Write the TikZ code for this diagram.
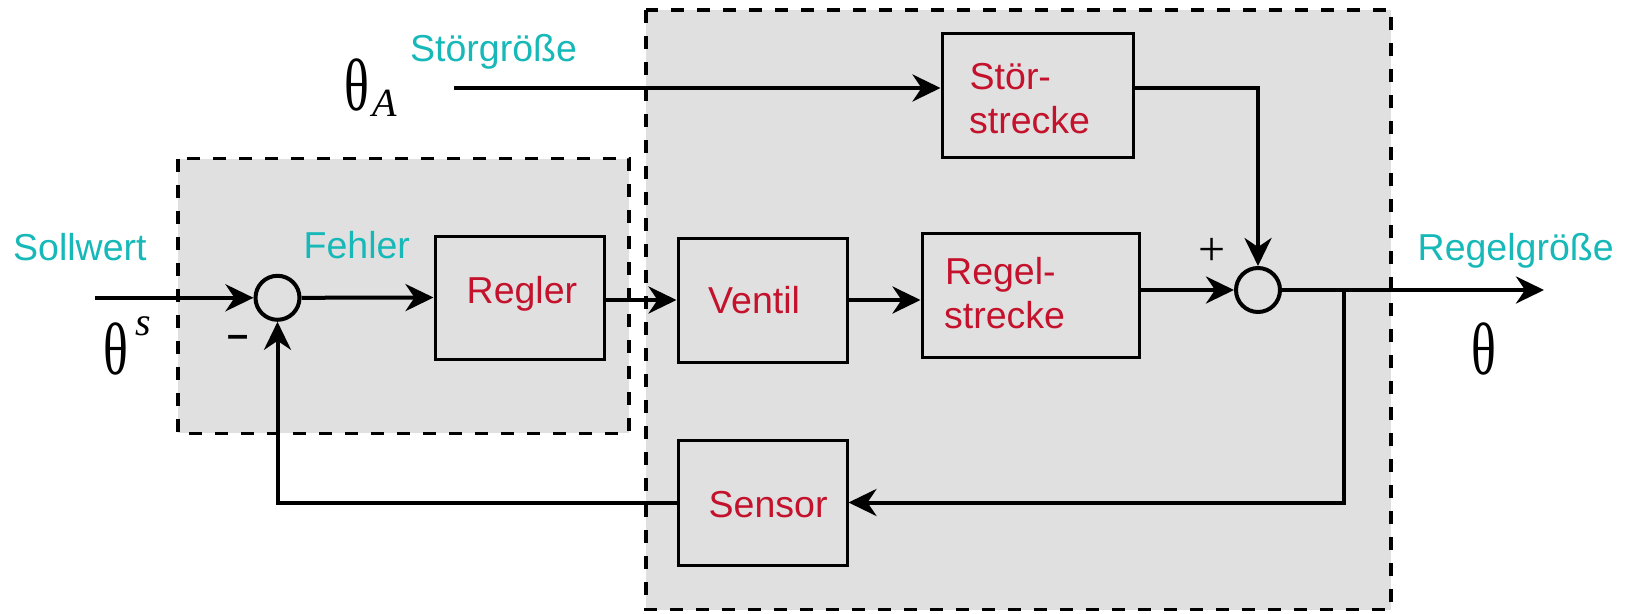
\documentclass[tikz,border=0pt]{standalone}
\usepackage{fontspec}
\setmainfont{Liberation Sans}
\newfontfamily\greekserif{Liberation Serif}
\usetikzlibrary{arrows.meta,calc}

\definecolor{panelgrey}{RGB}{224,224,224}
\definecolor{blockred}{RGB}{196,18,44}
\definecolor{signalcyan}{RGB}{22,184,184}

\tikzset{
  panel/.style={draw=black, fill=panelgrey, line width=3.5pt, dash pattern=on 13pt off 13pt},
  block/.style={draw=black, line width=3pt, rectangle, inner sep=0pt},
  summer/.style={draw=black, line width=4pt, circle, inner sep=0pt, minimum size=44pt},
  wire/.style={line width=4pt},
  flow/.style={wire, -{Stealth[length=28pt,width=27pt,inset=9pt]}},
  blocktext/.style={anchor=base west, inner sep=0pt, text=blockred, font=\fontsize{37.5}{45}\selectfont},
  signal/.style={anchor=base west, inner sep=0pt, text=signalcyan, font=\fontsize{37.5}{45}\selectfont},
  sym/.style={anchor=base west, inner sep=0pt, font=\greekserif\fontsize{74}{80}\selectfont},
  idx/.style={anchor=base west, inner sep=0pt, font=\greekserif\itshape\fontsize{40}{46}\selectfont},
}

\begin{document}
\begin{tikzpicture}[x=1pt, y=-1pt]
  \useasboundingbox (0,0) rectangle (1630,613);

  % shaded groups: controller and plant
  \draw[panel] (178,158.6) rectangle (629,433.4);
  \draw[panel] (646,9.8) rectangle (1391,609.6);

  % blocks
  \node[block, minimum width=169pt, minimum height=123pt] (regler) at (519.5,297.5) {};
  \node[block, minimum width=169pt, minimum height=124pt] (ventil) at (762.5,300) {};
  \node[block, minimum width=169pt, minimum height=125pt] (sensor) at (762.5,502.5) {};
  \node[block, minimum width=191pt, minimum height=124pt] (stoer) at (1037.5,95) {};
  \node[block, minimum width=217pt, minimum height=124pt] (strecke) at (1030.5,295) {};

  % summing points
  \node[summer] (sum1) at (277.5,297.8) {};
  \node[summer] (sum2) at (1258,290) {};

  % block labels
  \node[blocktext] (reglerT) at (466.5,303.5) {Regler};
  \node[blocktext] (ventilT) at (708,313) {Ventil};
  \node[blocktext] (sensorT) at (708.5,517) {Sensor};
  \node[blocktext] (stoerT1) at (969.5,89) {Stör-};
  \node[blocktext] (stoerT2) at (969,133) {strecke};
  \node[blocktext] (streckeT1) at (945,284) {Regel-};
  \node[blocktext] (streckeT2) at (944,328) {strecke};

  % signal names
  \node[signal] (sollwert) at (13,260) {Sollwert};
  \node[signal] (fehler) at (303.5,258.5) {Fehler};
  \node[signal] (stoergr) at (410,61) {Störgröße};
  \node[signal] (regelgr) at (1417.5,260) {Regelgröße};

  % symbols
  \node[sym] (thS) at (103,374) {\scalebox{0.7}[1]{θ}};
  \node[idx] (thSidx) at (135,335) {s};
  \node[sym] (thA) at (344,110) {\scalebox{0.7}[1]{θ}};
  \node[idx] (thAidx) at (372,116) {A};
  \node[sym] (thOut) at (1471,374) {\scalebox{0.7}[1]{θ}};

  % signs at the summing points
  \node[inner sep=0pt, font=\bfseries\fontsize{38}{42}\selectfont] (minus) at (238,341) {–};
  \node[inner sep=0pt, font=\greekserif\fontsize{48}{52}\selectfont] (plus) at (1212.5,251.5) {+};

  % free ends of signals
  \coordinate (setIn) at (95,297.8);
  \coordinate (distIn) at (454,88);
  \coordinate (outEnd) at (1544,290);
  \coordinate (branch) at (1344,290);

  % signal flow
  \draw[flow] (setIn) -- (sum1.west);
  \draw[flow] (sum1.east) -- (regler.west);
  \draw[flow] (ventil.west -| regler.east) -- (ventil.west);
  \draw[flow] (ventil.east) -- (ventil.east -| strecke.west);
  \draw[flow] (strecke.east |- sum2.west) -- (sum2.west);
  \draw[flow] (distIn) -- (distIn -| stoer.west);
  \draw[flow] (stoer.east |- distIn) -| (sum2.north);
  \draw[flow] (sum2.east) -- (outEnd);
  \draw[flow] (branch) |- (sensor.east);
  \draw[flow] (sensor.west) -| (sum1.south);
\end{tikzpicture}
\end{document}
